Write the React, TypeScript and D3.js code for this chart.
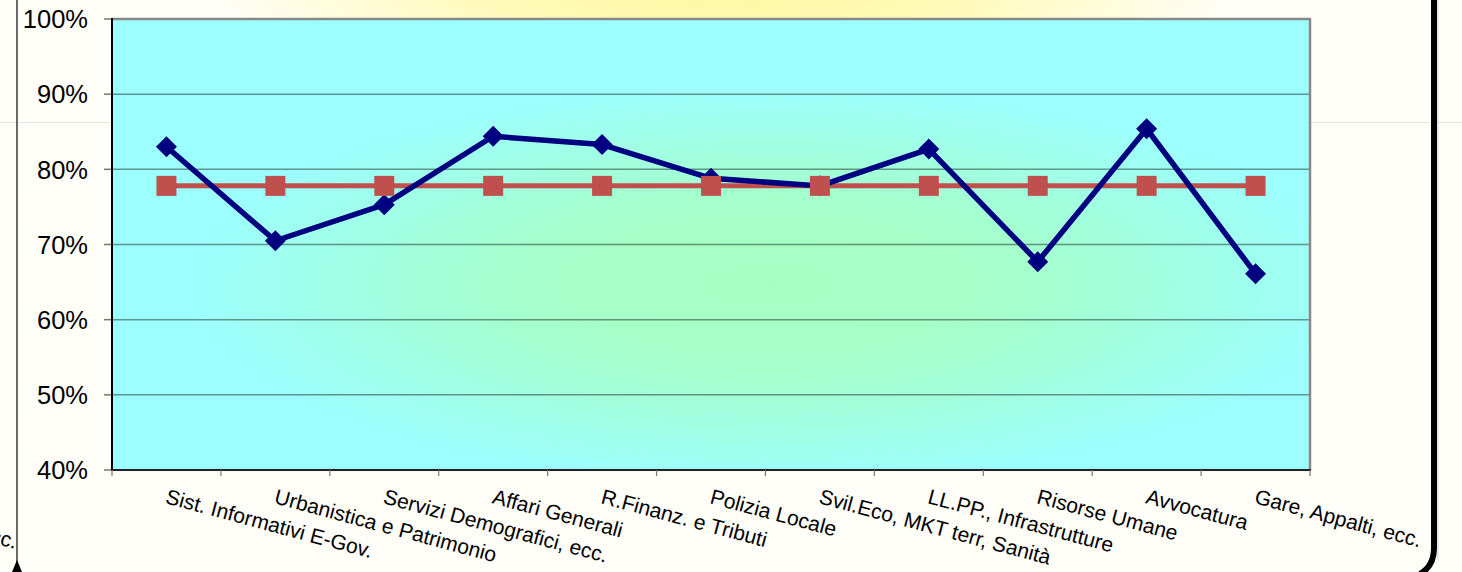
import React from "react";
import * as d3 from "d3";

const categories: string[] = [
  "Sist. Informativi E-Gov.",
  "Urbanistica e Patrimonio",
  "Servizi Demografici, ecc.",
  "Affari Generali",
  "R.Finanz. e Tributi",
  "Polizia Locale",
  "Svil.Eco, MKT terr, Sanità",
  "LL.PP., Infrastrutture",
  "Risorse Umane",
  "Avvocatura",
  "Gare, Appalti, ecc.",
];

const seriesBlue: number[] = [0.83, 0.705, 0.753, 0.844, 0.833, 0.788, 0.778, 0.827, 0.677, 0.854, 0.661];
const seriesRed: number[] = [0.778, 0.778, 0.778, 0.778, 0.778, 0.778, 0.778, 0.778, 0.778, 0.778, 0.778];
const yTicks: number[] = [0.4, 0.5, 0.6, 0.7, 0.8, 0.9, 1.0];

const W = 1462;
const H = 572;
const FONT = "'Liberation Sans', Arial, Helvetica, sans-serif";

export default function App() {
  const left = 112, right = 1310, top = 19, bottom = 470;
  const x = d3.scaleBand<string>().domain(categories).range([left, right]).padding(0);
  const y = d3.scaleLinear().domain([0.4, 1.0]).range([bottom, top]);
  const cx = (c: string) => (x(c) as number) + x.bandwidth() / 2;

  const line = d3
    .line<number>()
    .x((_, i) => cx(categories[i]))
    .y((d) => y(d));

  const diamond = (px: number, py: number, r: number) =>
    `M${px},${py - r}L${px + r},${py}L${px},${py + r}L${px - r},${py}Z`;

  const fmt = d3.format(".0%");
  const boundaries = [...categories.map((c) => x(c) as number), right];

  return (
    <svg
      width={W}
      height={H}
      style={{ position: "absolute", left: 0, top: 0, display: "block" }}
      fontFamily={FONT}
    >
      <defs>
        <radialGradient
          id="glow"
          gradientUnits="userSpaceOnUse"
          cx={725}
          cy={-10}
          r={1}
          gradientTransform="translate(725,-10) scale(520,110) translate(-725,10)"
        >
          <stop offset="0" stopColor="#fff7a0" />
          <stop offset="0.45" stopColor="#fffab8" />
          <stop offset="1" stopColor="#fffef8" />
        </radialGradient>
        <radialGradient
          id="plotbg"
          gradientUnits="userSpaceOnUse"
          cx={770}
          cy={285}
          r={1}
          gradientTransform="translate(770,285) scale(580,200) translate(-770,-285)"
        >
          <stop offset="0" stopColor="#a6ffc2" />
          <stop offset="0.4" stopColor="#a5ffc8" />
          <stop offset="1" stopColor="#9dfffd" />
        </radialGradient>
      </defs>

      {/* page background */}
      <rect x={0} y={0} width={W} height={H} fill="#fffef8" />
      <rect x={0} y={0} width={W} height={H} fill="url(#glow)" />
      <line x1={0} x2={W} y1={122.5} y2={122.5} stroke="#e6e6e6" strokeWidth={1} />

      {/* left slide edge */}
      <line x1={17} x2={17} y1={0} y2={563} stroke="#6a6a6a" strokeWidth={2} />
      <path d="M12,572 L17,560 L22,572 Z" fill="#000" />
      {/* right slide edge */}
      <path
        d="M1434,0 L1434,548 Q1434,566 1420,574"
        fill="none"
        stroke="#000"
        strokeWidth={6}
      />
      <line x1={1438} x2={1438} y1={0} y2={560} stroke="#cfcfcf" strokeWidth={1} />

      {/* partial text at the left edge */}
      <text
        transform={`translate(15,549) rotate(15)`}
        textAnchor="end"
        fontSize={21}
        fill="#000"
      >
        ecc.
      </text>

      {/* plot area */}
      <rect x={left} y={top} width={right - left} height={bottom - top} fill="url(#plotbg)" />

      {/* gridlines + y ticks */}
      {yTicks.map((t) => (
        <g key={t}>
          {t > 0.4 && t < 1.0 && (
            <line x1={left} x2={right} y1={y(t)} y2={y(t)} stroke="#000" strokeOpacity={0.42} strokeWidth={1.5} />
          )}
          <line x1={104} x2={left} y1={y(t)} y2={y(t)} stroke="#777" strokeWidth={1.5} />
          <text x={88} y={y(t)} dy="0.36em" textAnchor="end" fontSize={25.5} fill="#000">
            {fmt(t)}
          </text>
        </g>
      ))}

      {/* plot border */}
      <line x1={left} x2={right + 1} y1={top} y2={top} stroke="#888" strokeWidth={2.5} />
      <line x1={right} x2={right} y1={top} y2={bottom} stroke="#888" strokeWidth={2.5} />
      <line x1={left} x2={left} y1={top - 1} y2={bottom + 1} stroke="#000" strokeWidth={2} />
      <line x1={left} x2={right + 1} y1={bottom} y2={bottom} stroke="#222" strokeWidth={2} />

      {/* x ticks */}
      {boundaries.map((b, i) => (
        <line key={i} x1={b} x2={b} y1={bottom} y2={bottom + 6} stroke="#777" strokeWidth={1.2} />
      ))}

      {/* x labels */}
      {categories.map((c) => (
        <text
          key={c}
          transform={`translate(${cx(c) - 2},${503}) rotate(15)`}
          textAnchor="start"
          fontSize={21}
          fill="#000"
        >
          {c}
        </text>
      ))}

      {/* series lines */}
      <path d={line(seriesRed) as string} fill="none" stroke="#c0504d" strokeWidth={5} />
      <path d={line(seriesBlue) as string} fill="none" stroke="#000080" strokeWidth={5.5} strokeLinejoin="round" />

      {/* blue markers */}
      {seriesBlue.map((v, i) => (
        <path key={i} d={diamond(cx(categories[i]), y(v), 10.5)} fill="#000080" />
      ))}

      {/* red markers */}
      {seriesRed.map((v, i) => (
        <rect
          key={i}
          x={cx(categories[i]) - 10}
          y={y(v) - 10}
          width={20}
          height={20}
          fill="#c0504d"
        />
      ))}
    </svg>
  );
}
